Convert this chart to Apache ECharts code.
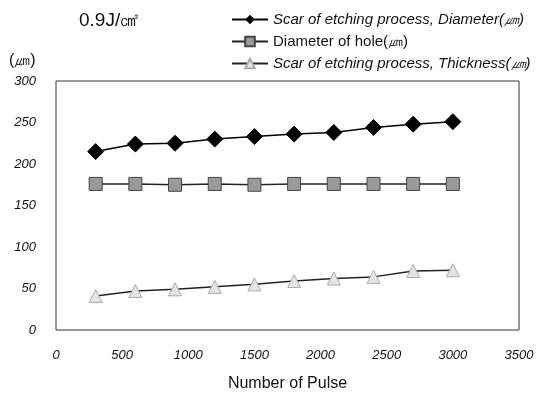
<!DOCTYPE html>
<html><head><meta charset="utf-8">
<script src="https://cdn.jsdelivr.net/npm/echarts@6/dist/echarts.min.js"></script>
<style>html,body{margin:0;padding:0;background:#fff}#c{width:545px;height:402px}</style>
</head><body><div id="c"></div>
<script>
const pulses = [300, 600, 900, 1200, 1500, 1800, 2100, 2400, 2700, 3000];
const scarDiameter = [215, 224, 225, 230, 233, 236, 238, 244, 248, 251];
const holeDiameter = [176, 176, 175, 176, 175, 176, 176, 176, 176, 176];
const scarThickness = [41, 47, 49, 52, 55, 59, 62, 64, 71, 72];
const xTicks = [0, 500, 1000, 1500, 2000, 2500, 3000, 3500];
const yTicks = [0, 50, 100, 150, 200, 250, 300];
const names = ['Scar of etching process, Diameter(㎛)', 'Diameter of hole(㎛)', 'Scar of etching process, Thickness(㎛)'];

const chart = echarts.init(document.getElementById('c'));
const pair = arr => pulses.map((p, i) => [p, arr[i]]);
chart.setOption({
  animation: false,
  backgroundColor: '#fff',
  grid: { left: 56, right: 26, top: 81, bottom: 72, show: true, borderColor: '#333', borderWidth: 1 },
  title: [
    { text: '0.9J/㎠', left: 74, top: 6, textStyle: { fontSize: 19, fontWeight: 'normal', color: '#111', fontFamily: 'Liberation Sans' } },
    { text: '(㎛)', left: 4, top: 48, textStyle: { fontSize: 16, fontWeight: 'normal', color: '#111', fontFamily: 'Liberation Sans' } }
  ],
  legend: {
    orient: 'vertical', left: 226, top: 7, itemGap: 7, itemWidth: 36, itemHeight: 12,
    textStyle: { fontSize: 15, color: '#111', fontFamily: 'Liberation Sans' },
    data: [
      { name: names[0], textStyle: { fontStyle: 'italic' } },
      { name: names[1] },
      { name: names[2], textStyle: { fontStyle: 'italic' } }
    ]
  },
  xAxis: {
    type: 'value', min: 0, max: 3500, interval: 500,
    name: 'Number of Pulse', nameLocation: 'middle', nameGap: 46,
    nameTextStyle: { fontSize: 16, color: '#111', fontFamily: 'Liberation Sans' },
    axisLine: { show: false }, axisTick: { show: false }, splitLine: { show: false },
    axisLabel: { fontSize: 13, color: '#111', margin: 19, fontStyle: 'italic', fontFamily: 'Liberation Sans',
      formatter: v => xTicks.includes(v) ? String(v) : '' }
  },
  yAxis: {
    type: 'value', min: 0, max: 300, interval: 50,
    axisLine: { show: false }, axisTick: { show: false }, splitLine: { show: false },
    axisLabel: { fontSize: 13, color: '#111', margin: 20, fontStyle: 'italic', fontFamily: 'Liberation Sans',
      formatter: v => yTicks.includes(v) ? String(v) : '' }
  },
  series: [
    { name: names[0], type: 'line', data: pair(scarDiameter), symbol: 'diamond', symbolSize: 16,
      lineStyle: { color: '#000', width: 1.5 }, itemStyle: { color: '#000', borderColor: '#000' } },
    { name: names[1], type: 'line', data: pair(holeDiameter), symbol: 'rect', symbolSize: 13,
      lineStyle: { color: '#222', width: 1.5 }, itemStyle: { color: '#9a9a9a', borderColor: '#444', borderWidth: 1 } },
    { name: names[2], type: 'line', data: pair(scarThickness), symbol: 'triangle', symbolSize: 13,
      lineStyle: { color: '#222', width: 1.5 }, itemStyle: { color: '#e4e4e4', borderColor: '#aaa', borderWidth: 1 } }
  ]
});
</script></body></html>
